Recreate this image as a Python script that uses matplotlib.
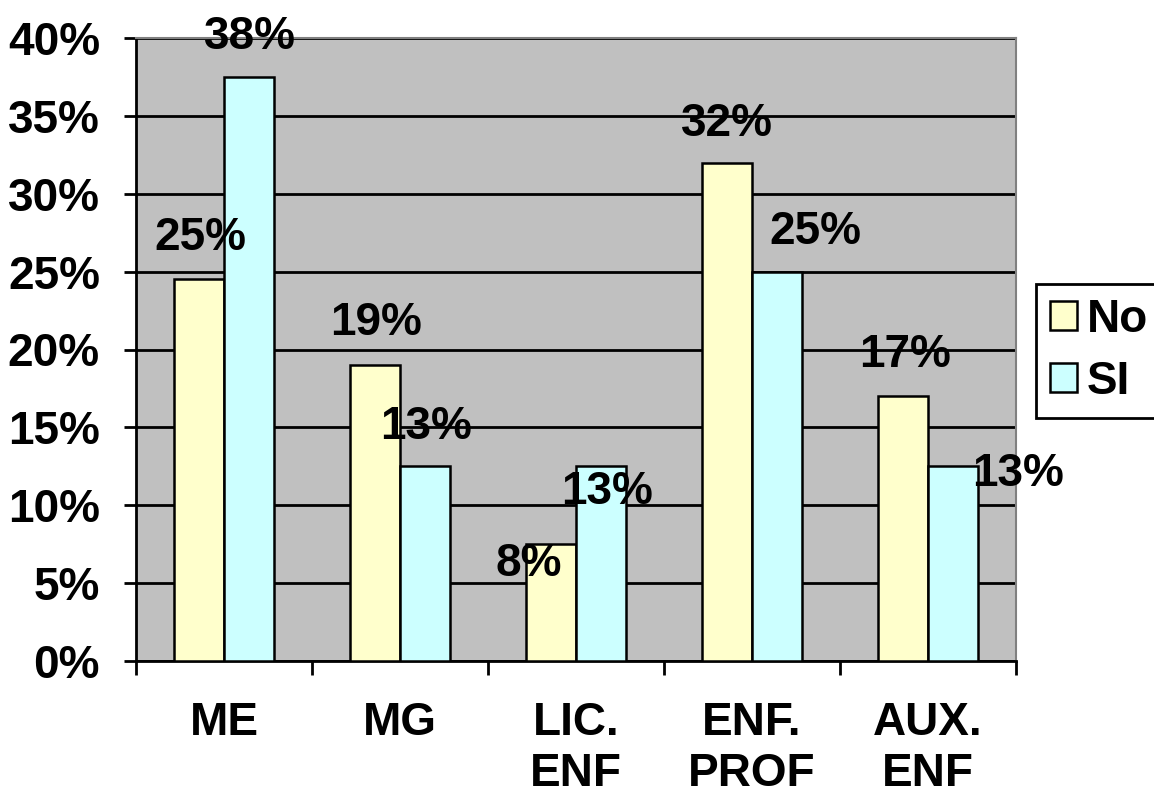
import matplotlib
matplotlib.use("Agg")
import matplotlib.pyplot as plt
import numpy as np

# data
categories = ["ME", "MG", "LIC.\nENF", "ENF.\nPROF", "AUX.\nENF"]
no_vals = [24.5, 19.0, 7.5, 32.0, 17.0]
si_vals = [37.5, 12.5, 12.5, 25.0, 12.5]
no_labels = ["25%", "19%", "8%", "32%", "17%"]
si_labels = ["38%", "13%", "13%", "25%", "13%"]

# label baseline offsets in pixels (hand placed in the original)
no_off = [(1, 29), (1, 30), (-22, -32), (0, 27), (2, 29)]
si_off = [(1, 28), (1, 27), (6, -38), (38, 28), (65, -20)]

bold = {"family": ["Liberation Sans", "DejaVu Sans"], "weight": "bold"}
fs = 33

fig = plt.figure(figsize=(11.54, 8.02), dpi=100)
ax = fig.add_axes([136/1154, 1-661/802, 880/1154, 623/802])
ax.set_facecolor("#C0C0C0")

x = np.arange(len(categories))
w = 0.285
bars_no = ax.bar(x - w/2, no_vals, w, color="#FFFFCC", edgecolor="black", linewidth=1.8, label="No", zorder=3)
bars_si = ax.bar(x + w/2, si_vals, w, color="#CCFFFF", edgecolor="black", linewidth=1.8, label="SI", zorder=3)

for b, t, off in zip(bars_no, no_labels, no_off):
    ax.annotate(t, (b.get_x() + b.get_width()/2, b.get_height()), xytext=off,
                textcoords="offset pixels", ha="center", va="baseline", fontsize=fs, zorder=5, **bold)
for b, t, off in zip(bars_si, si_labels, si_off):
    ax.annotate(t, (b.get_x() + b.get_width()/2, b.get_height()), xytext=off,
                textcoords="offset pixels", ha="center", va="baseline", fontsize=fs, zorder=5,
                annotation_clip=False, **bold)

ax.set_xlim(-0.5, len(categories) - 0.5)
ax.set_ylim(0, 40)
ax.set_yticks(np.arange(0, 41, 5))
ax.set_yticklabels([f"{v}%" for v in range(0, 41, 5)], fontsize=fs, **bold)
ax.yaxis.grid(True, color="black", linewidth=2, zorder=1)
ax.set_axisbelow(True)

ax.set_xticks(np.arange(-0.5, len(categories), 1))
ax.set_xticklabels([])
ax.set_xticks(x, minor=True)
ax.set_xticklabels(categories, minor=True, fontsize=fs, linespacing=1.2, **bold)
ax.tick_params(axis="x", which="major", length=10, width=2, direction="out")
ax.tick_params(axis="x", which="minor", length=0, pad=29)
ax.tick_params(axis="y", length=9, width=2, direction="out", pad=17)

for s in ["left", "bottom"]:
    ax.spines[s].set_linewidth(2)
    ax.spines[s].set_color("black")
for s in ["top", "right"]:
    ax.spines[s].set_linewidth(1.5)
    ax.spines[s].set_color("#808080")

leg = fig.legend(loc="upper left", bbox_to_anchor=(1036/1154, 1-284/802), frameon=True,
                 fancybox=False, edgecolor="black", framealpha=1, borderaxespad=0,
                 prop={"family": "Liberation Sans", "weight": "bold", "size": fs},
                 handlelength=0.6, handleheight=0.6, handletextpad=0.2, borderpad=0.3, labelspacing=0.4)
leg.get_frame().set_linewidth(2)

fig.savefig("out.png", dpi=100)
